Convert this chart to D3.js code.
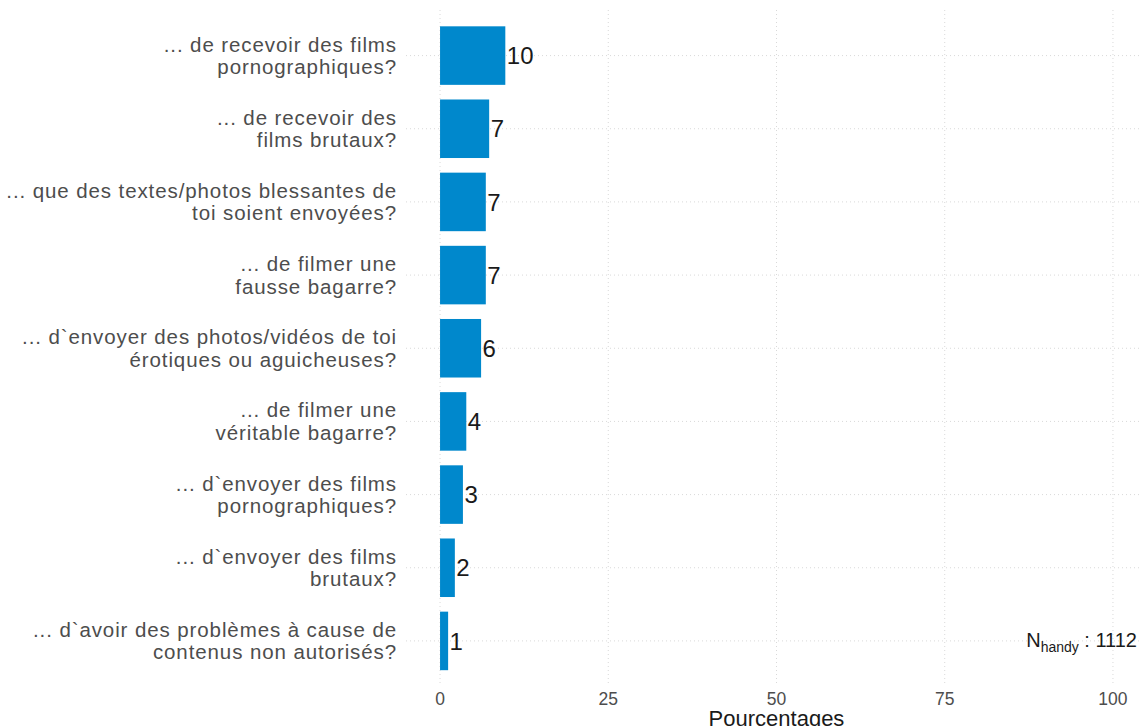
<!DOCTYPE html>
<html><head><meta charset="utf-8">
<script src="https://cdn.jsdelivr.net/npm/d3@7"></script>
<style>body{margin:0;background:#fff}svg{display:block}</style>
</head><body>
<svg id="c" width="1141" height="726"></svg>
<script>
const categories = [
  ["... de recevoir des films", "pornographiques?"],
  ["... de recevoir des", "films brutaux?"],
  ["... que des textes/photos blessantes de", "toi soient envoyées?"],
  ["... de filmer une", "fausse bagarre?"],
  ["... d`envoyer des photos/vidéos de toi", "érotiques ou aguicheuses?"],
  ["... de filmer une", "véritable bagarre?"],
  ["... d`envoyer des films", "pornographiques?"],
  ["... d`envoyer des films", "brutaux?"],
  ["... d`avoir des problèmes à cause de", "contenus non autorisés?"]
];
const values = [9.7, 7.3, 6.8, 6.8, 6.1, 3.9, 3.4, 2.2, 1.2];
const xTicks = [0, 25, 50, 75, 100];
const nLabel = "1112";

const FONT = "Liberation Sans, Arial, Helvetica, sans-serif";
const svg = d3.select("#c");
const x = d3.scaleLinear().domain([-5, 105]).range([406.4, 1146.6]);
const y = d3.scaleBand().domain(d3.range(categories.length)).range([19, 677.5]).paddingInner(0.2).paddingOuter(0.1);
const gridCol = "#d9d9d9";

// vertical grid
svg.append("g").selectAll("line").data(xTicks).join("line")
  .attr("x1", d => x(d)).attr("x2", d => x(d))
  .attr("y1", 10).attr("y2", 685)
  .attr("stroke", gridCol).attr("stroke-width", 1).attr("stroke-dasharray", "1,3");
// horizontal grid
svg.append("g").selectAll("line").data(d3.range(categories.length)).join("line")
  .attr("x1", 406).attr("x2", 1141)
  .attr("y1", d => y(d) + y.bandwidth()/2).attr("y2", d => y(d) + y.bandwidth()/2)
  .attr("stroke", gridCol).attr("stroke-width", 1).attr("stroke-dasharray", "1,3");

// bars
svg.append("g").selectAll("rect").data(values).join("rect")
  .attr("x", x(0)).attr("y", (d, i) => y(i))
  .attr("width", d => x(d) - x(0)).attr("height", y.bandwidth())
  .attr("fill", "#0088cc");

// value labels
svg.append("g").selectAll("text").data(values).join("text")
  .attr("x", d => x(d) + 1.5).attr("y", (d, i) => y(i) + y.bandwidth()/2)
  .attr("dy", "0.36em")
  .attr("font-family", FONT).attr("font-size", 24)
  .attr("fill", "#1a1a1a")
  .text(d => Math.round(d));

// category labels
const cl = svg.append("g").selectAll("text").data(categories).join("text")
  .attr("text-anchor", "end")
  .attr("font-family", FONT).attr("font-size", 20.5)
  .attr("letter-spacing", 0.9)
  .attr("fill", "#4d4d4d")
  .attr("transform", (d, i) => `translate(397,${y(i) + y.bandwidth()/2})`);
cl.selectAll("tspan").data(d => d).join("tspan")
  .attr("x", 0).attr("y", (d, j) => j === 0 ? -4 : 18.5)
  .text(d => d);

// x axis tick labels
svg.append("g").selectAll("text").data(xTicks).join("text")
  .attr("x", d => x(d)).attr("y", 705)
  .attr("text-anchor", "middle")
  .attr("font-family", FONT).attr("font-size", 17.5)
  .attr("fill", "#4d4d4d")
  .text(d => d);

// x axis title
svg.append("text")
  .attr("x", x(50)).attr("y", 726)
  .attr("text-anchor", "middle")
  .attr("font-family", FONT).attr("font-size", 22)
  .attr("fill", "#1a1a1a")
  .text("Pourcentages");

// N annotation
const nt = svg.append("text")
  .attr("x", 1137).attr("y", y(8) + y.bandwidth()/2 + 6)
  .attr("text-anchor", "end")
  .attr("font-family", FONT).attr("font-size", 20)
  .attr("fill", "#1a1a1a");
nt.append("tspan").text("N");
nt.append("tspan").attr("font-size", 14).attr("dy", 5).text("handy");
nt.append("tspan").attr("dy", -5).text(" : " + nLabel);
</script>
</body></html>
